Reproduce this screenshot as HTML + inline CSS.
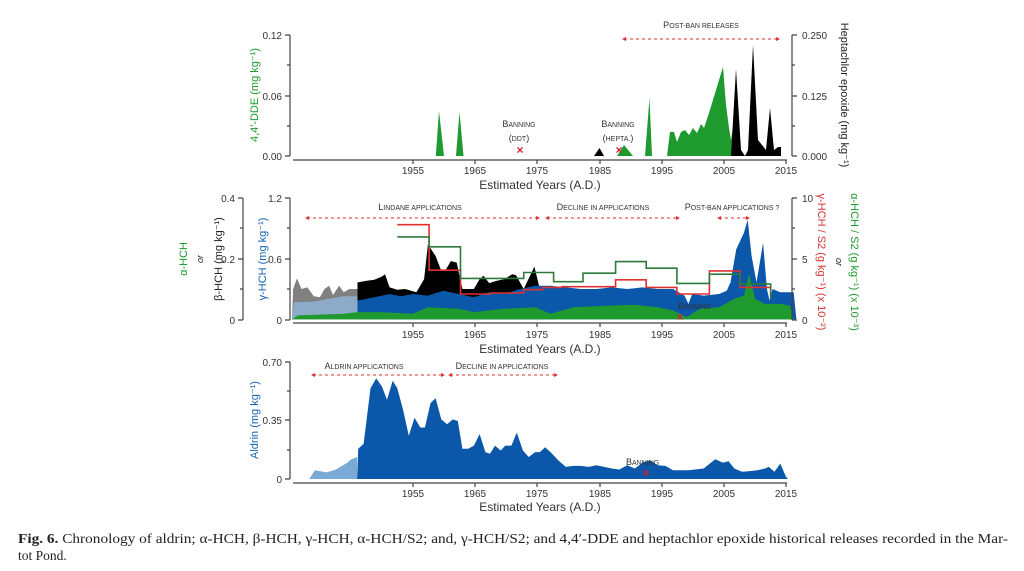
<!DOCTYPE html>
<html><head><meta charset="utf-8"><style>
body{margin:0;background:#fff;}
svg{display:block;font-family:"Liberation Sans",sans-serif;}
.t{font-size:10px;fill:#333;}
.sc{font-size:9px;fill:#333;}
.ax{stroke:#444;stroke-width:1.2;fill:none;}
.arr{stroke:#e03030;stroke-width:1;stroke-dasharray:3,3;fill:none;}
</style></head><body>
<svg id="s" width="1024" height="571" viewBox="0 0 1024 571" xmlns="http://www.w3.org/2000/svg">
<!-- PANEL 1 -->
<g>
<path fill="#1e9a2e" d="M435.8,156 L439,111 L444,156Z M456,156 L459.5,112 L463.5,156Z M617,156 L624,145 L633,156Z M645,156 L649.5,98 L652,156Z M667,156 L670,132 L674,132 L677,142 L681,132 L685,130 L689,135 L693,128 L697,133 L701,124 L704,128 L709,113 L723,67 L726,105 L729,128 L731,140 L735,113 L739,156Z"/>
<path fill="#000" d="M594,156 L599.5,148 L604,156Z M731,156 L736,69 L741,150 L745,156 L748,150 L753,45 L758,140 L762,145 L766,150 L770,108 L774,150 L778,147 L781,147 L781,156Z"/>
<path class="ax" d="M293,160 H787 M290,35 V156 M285,35 H290 M285,96 H290 M285,156 H290 M287,65 H290 M287,126 H290 M792,35 V156 M792,35 H797 M792,96 H797 M792,156 H797 M792,65 H795 M792,126 H795"/>
<g class="ax"><path d="M413,160v4M475,160v4M537,160v4M600,160v4M662,160v4M724,160v4M786,160v4"/></g>
<g class="t" text-anchor="middle"><text x="413" y="174">1955</text><text x="475" y="174">1965</text><text x="537" y="174">1975</text><text x="600" y="174">1985</text><text x="662" y="174">1995</text><text x="724" y="174">2005</text><text x="786" y="174">2015</text></g>
<text x="540" y="189" text-anchor="middle" style="font-size:12px;fill:#333">Estimated Years (A.D.)</text>
<g class="t" text-anchor="end"><text x="282" y="39">0.12</text><text x="282" y="100">0.06</text><text x="282" y="160">0.00</text></g>
<g class="t"><text x="802" y="39">0.250</text><text x="802" y="100">0.125</text><text x="802" y="160">0.000</text></g>
<text transform="translate(258,95) rotate(-90)" text-anchor="middle" style="font-size:11px;fill:#1e9a2e">4,4′-DDE (mg kg⁻¹)</text>
<text transform="translate(841,95) rotate(90)" text-anchor="middle" style="font-size:11px;fill:#222">Heptachlor epoxide (mg kg⁻¹)</text>
<text x="701" y="28" class="sc" text-anchor="middle">P<tspan font-size="7">OST-BAN RELEASES</tspan></text>
<path class="arr" d="M624,39 H778"/><path fill="#e03030" d="M622,39 l4,-2 v4z M780,39 l-4,-2 v4z"/>
<text x="519" y="127" class="sc" text-anchor="middle">B<tspan font-size="7">ANNING</tspan></text><text x="519" y="141" class="sc" text-anchor="middle">(<tspan font-size="7">DDT</tspan>)</text>
<text x="618" y="127" class="sc" text-anchor="middle">B<tspan font-size="7">ANNING</tspan></text><text x="618" y="141" class="sc" text-anchor="middle">(<tspan font-size="7">HEPTA.</tspan>)</text>
<text x="520" y="154" text-anchor="middle" style="font-size:12px;fill:#d02030;font-weight:bold">×</text>
<text x="619" y="154" text-anchor="middle" style="font-size:12px;fill:#d02030;font-weight:bold">×</text>
</g>
<!-- PANEL 2 -->
<g id="p2"></g>
<g>
<path class="ax" d="M293,323 H787 M290,198 V320 M285,198 H290 M285,259 H290 M285,320 H290 M287,228 H290 M287,289 H290 M243,198 V320 M238,198 H243 M238,259 H243 M238,320 H243 M240,228 H243 M240,289 H243 M792,198 V320 M792,198 H797 M792,259 H797 M792,320 H797 M792,228 H795 M792,289 H795"/>
<g class="ax"><path d="M413,323v4M475,323v4M537,323v4M600,323v4M662,323v4M724,323v4M786,323v4"/></g>
<g class="t" text-anchor="middle"><text x="413" y="338">1955</text><text x="475" y="338">1965</text><text x="537" y="338">1975</text><text x="600" y="338">1985</text><text x="662" y="338">1995</text><text x="724" y="338">2005</text><text x="786" y="338">2015</text></g>
<text x="540" y="353" text-anchor="middle" style="font-size:12px;fill:#333">Estimated Years (A.D.)</text>
<g class="t" text-anchor="end"><text x="282" y="202">1.2</text><text x="282" y="263">0.6</text><text x="282" y="324">0</text><text x="235" y="202">0.4</text><text x="235" y="263">0.2</text><text x="235" y="324">0</text></g>
<g class="t"><text x="802" y="202">10</text><text x="802" y="263">5</text><text x="802" y="324">0</text></g>
<text transform="translate(266,259) rotate(-90)" text-anchor="middle" style="font-size:11px;fill:#1565b5">γ-HCH (mg kg⁻¹)</text>
<text transform="translate(187,259) rotate(-90)" text-anchor="middle" style="font-size:11px;fill:#1e9a2e">α-HCH</text>
<text transform="translate(203,259) rotate(-90)" text-anchor="middle" style="font-size:9px;font-style:italic;fill:#222">or</text>
<text transform="translate(222,259) rotate(-90)" text-anchor="middle" style="font-size:11px;fill:#222">β-HCH (mg kg⁻¹)</text>
<text transform="translate(818,262) rotate(90)" text-anchor="middle" style="font-size:11px;fill:#d83030">γ-HCH / S2 (g kg⁻¹) (x 10⁻²)</text>
<text transform="translate(836,262) rotate(90)" text-anchor="middle" style="font-size:9px;font-style:italic;fill:#222">or</text>
<text transform="translate(851,262) rotate(90)" text-anchor="middle" style="font-size:11px;fill:#1e9a2e">α-HCH / S2 (g kg⁻¹) (x 10⁻³)</text>
<text x="420" y="210" class="sc" text-anchor="middle">L<tspan font-size="7">INDANE APPLICATIONS</tspan></text>
<text x="603" y="210" class="sc" text-anchor="middle">D<tspan font-size="7">ECLINE IN APPLICATIONS</tspan></text>
<text x="732" y="210" class="sc" text-anchor="middle">P<tspan font-size="7">OST-BAN APPLICATIONS ?</tspan></text>
<path class="arr" d="M307,218 H538 M547,218 H678 M719,218 H748"/>
<path fill="#e03030" d="M305,218 l4,-2 v4z M540,218 l-4,-2 v4z M545,218 l4,-2 v4z M680,218 l-4,-2 v4z M717,218 l4,-2 v4z M750,218 l-4,-2 v4z"/>
<text x="678" y="309" class="sc">B<tspan font-size="7">ANNING</tspan></text>
<text x="680" y="321" text-anchor="middle" style="font-size:12px;fill:#d02030;font-weight:bold">×</text>
</g>
<!-- PANEL 3 -->
<g id="p3"></g>
<g>
<path class="ax" d="M293,483 H787 M290,362 V479 M285,362 H290 M285,420 H290 M285,479 H290 M287,391 H290 M287,450 H290"/>
<g class="ax"><path d="M413,483v4M475,483v4M537,483v4M600,483v4M662,483v4M724,483v4M786,483v4"/></g>
<g class="t" text-anchor="middle"><text x="413" y="497">1955</text><text x="475" y="497">1965</text><text x="537" y="497">1975</text><text x="600" y="497">1985</text><text x="662" y="497">1995</text><text x="724" y="497">2005</text><text x="786" y="497">2015</text></g>
<text x="540" y="511" text-anchor="middle" style="font-size:12px;fill:#333">Estimated Years (A.D.)</text>
<g class="t" text-anchor="end"><text x="282" y="366">0.70</text><text x="282" y="424">0.35</text><text x="282" y="483">0</text></g>
<text transform="translate(258,420) rotate(-90)" text-anchor="middle" style="font-size:11px;fill:#1565b5">Aldrin (mg kg⁻¹)</text>
<text x="364" y="369" class="sc" text-anchor="middle">A<tspan font-size="7">LDRIN APPLICATIONS</tspan></text>
<text x="502" y="369" class="sc" text-anchor="middle">D<tspan font-size="7">ECLINE IN APPLICATIONS</tspan></text>
<path class="arr" d="M313,375 H443 M450,375 H556"/>
<path fill="#e03030" d="M311,375 l4,-2 v4z M445,375 l-4,-2 v4z M448,375 l4,-2 v4z M558,375 l-4,-2 v4z"/>
<text x="626" y="465" class="sc">B<tspan font-size="7">ANNING</tspan></text>
<text x="646" y="477" text-anchor="middle" style="font-size:12px;fill:#d02030;font-weight:bold">×</text>
</g>
<text x="18" y="543" textLength="990" lengthAdjust="spacingAndGlyphs" style="font-family:'Liberation Serif',serif;font-size:13.5px;fill:#222"><tspan font-weight="bold">Fig. 6.</tspan> Chronology of aldrin; α-HCH, β-HCH, γ-HCH, α-HCH/S2; and, γ-HCH/S2; and 4,4′-DDE and heptachlor epoxide historical releases recorded in the Mar-</text>
<text x="18" y="560" style="font-family:'Liberation Serif',serif;font-size:13.5px;fill:#222">tot Pond.</text>
</svg>
<script>
function X(z){return 413+(z-481)/2.611;}
function Y2(z){return 190+z/3.03;}
function Y3(z){return 362+(z-15)*117/357;}
function poly(pts,fy,close,base){var s="";pts.forEach(function(p,i){s+=(i?"L":"M")+X(p[0]).toFixed(1)+","+fy(p[1]).toFixed(1)+" ";});if(close)s+="L"+X(pts[pts.length-1][0]).toFixed(1)+","+fy(base).toFixed(1)+" L"+X(pts[0][0]).toFixed(1)+","+fy(base).toFixed(1)+"Z";return s;}
var NS="http://www.w3.org/2000/svg";
function add(g,d,attrs){var p=document.createElementNS(NS,"path");p.setAttribute("d",d);for(var k in attrs)p.setAttribute(k,attrs[k]);g.appendChild(p);}
var g2=document.getElementById("p2");
add(g2,poly([[165,392],[168,300],[178,268],[190,300],[205,295],[222,322],[238,325],[250,300],[262,290],[272,318],[288,290],[300,310],[315,300],[336,300]],Y2,true,392),{fill:"#808080"});
add(g2,poly([[336,280],[360,275],[380,272],[400,262],[408,255],[420,295],[440,302],[460,300],[490,310],[510,270],[520,165],[540,200],[555,245],[565,245],[580,215],[595,220],[610,300],[640,300],[655,270],[665,260],[680,282],[700,275],[720,270],[740,255],[750,258],[770,300],[798,232],[810,290],[830,320],[845,330],[850,392]],Y2,true,392),{fill:"#000"});
add(g2,poly([[165,392],[170,340],[220,338],[260,330],[300,322],[336,322]],Y2,true,392),{fill:"#8fb2d6",opacity:"0.85"});
add(g2,poly([[336,335],[380,325],[420,315],[450,322],[480,315],[520,320],[560,305],[600,315],[640,325],[680,310],[720,315],[760,300],[800,290],[840,290],[880,295],[920,300],[960,300],[1000,295],[1040,300],[1080,295],[1120,300],[1160,300],[1190,320],[1200,345],[1210,315],[1240,320],[1280,315],[1300,305],[1310,280],[1325,180],[1345,130],[1355,90],[1365,200],[1378,280],[1395,160],[1405,300],[1412,335],[1420,300],[1440,310],[1460,310],[1475,310],[1482,392]],Y2,true,392),{fill:"#0b57aa"});
add(g2,poly([[165,392],[180,380],[300,375],[336,370],[400,370],[480,375],[520,355],[600,360],[640,370],[720,360],[800,355],[840,375],[900,355],[1000,350],[1060,348],[1120,355],[1160,365],[1195,385],[1230,360],[1280,355],[1320,330],[1345,320],[1358,255],[1375,330],[1400,345],[1440,345],[1465,350],[1475,392]],Y2,true,392),{fill:"#1e9a2e"});
function step(segs,end){var s="";segs.forEach(function(a,i){s+=(i?"L":"M")+X(a[0]).toFixed(1)+","+Y2(a[2]).toFixed(1)+" L"+X(a[1]).toFixed(1)+","+Y2(a[2]).toFixed(1)+" ";});var l=segs[segs.length-1];s+="L"+X(l[1]).toFixed(1)+","+Y2(end).toFixed(1);return s;}
add(g2,step([[440,523,105],[523,605,243],[605,685,315],[685,770,312],[770,820,302],[820,870,295],[870,1010,293],[1010,1090,272],[1090,1170,295],[1170,1255,315],[1255,1335,245],[1335,1415,295]],330),{fill:"none",stroke:"#e03030","stroke-width":"1.6"});
add(g2,step([[440,523,142],[523,605,172],[605,685,268],[685,770,268],[770,848,250],[848,925,278],[925,1010,252],[1010,1090,217],[1090,1170,237],[1170,1255,283],[1255,1335,255],[1335,1415,285]],330),{fill:"none",stroke:"#2e7a3e","stroke-width":"1.6"});
var g3=document.getElementById("p3");
add(g3,poly([[210,372],[225,345],[255,352],[280,343],[310,322],[320,312],[335,305],[335,372]],Y3,false),{fill:"#7ba9d6"});
add(g3,poly([[335,372],[338,280],[352,265],[370,95],[385,65],[400,90],[413,130],[428,72],[440,95],[455,160],[470,240],[485,185],[500,215],[512,215],[527,140],[540,125],[555,190],[570,205],[585,190],[598,195],[610,280],[625,280],[640,270],[655,235],[670,290],[682,295],[695,270],[710,285],[722,270],[738,270],[752,230],[768,285],[783,305],[800,290],[812,290],[826,275],[840,290],[860,315],[880,335],[900,332],[920,332],[940,335],[960,330],[980,335],[1000,340],[1020,343],[1040,330],[1060,340],[1080,322],[1100,315],[1120,330],[1140,332],[1160,345],[1200,345],[1240,340],[1270,312],[1290,322],[1305,318],[1320,340],[1340,350],[1360,348],[1380,345],[1400,340],[1410,335],[1425,350],[1440,325],[1455,365],[1460,372]],Y3,false),{fill:"#0b57aa"});
</script>
</body></html>
